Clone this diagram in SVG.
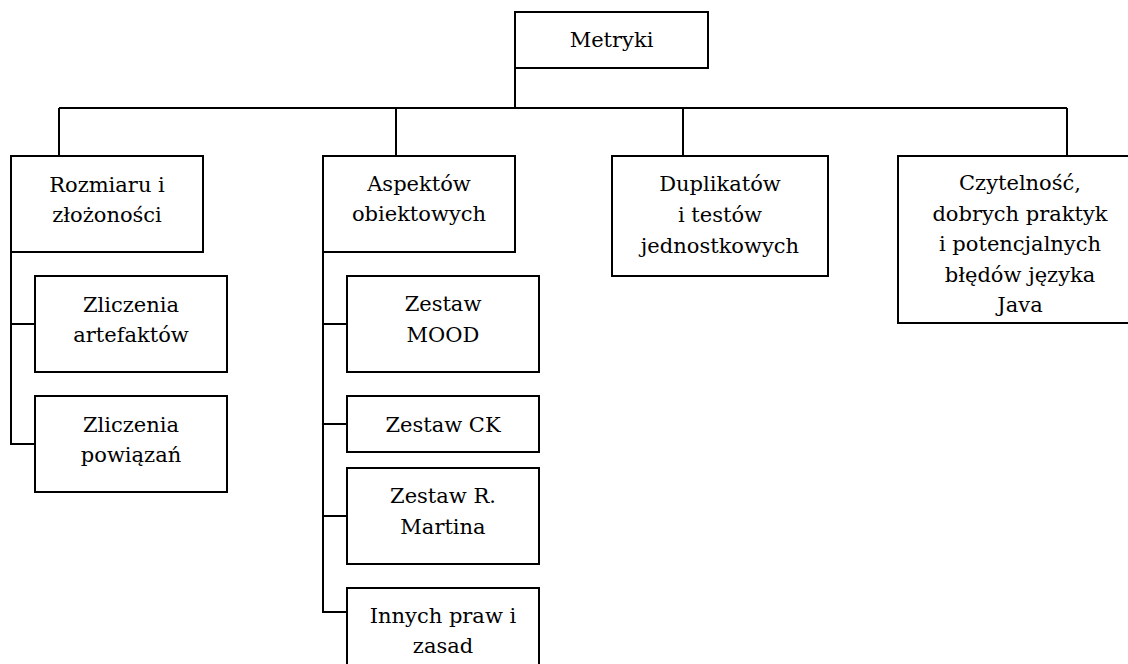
<svg xmlns="http://www.w3.org/2000/svg" width="1128" height="664" viewBox="0 0 1128 664">
  <style>
    .box { fill: #ffffff; stroke: #000000; stroke-width: 2; }
    .wire { fill: none; stroke: #000000; stroke-width: 2; }
    .lbl { font-family: 'DejaVu Serif', serif; font-size: 21px; fill: #000000; text-anchor: middle; }
  </style>
  <rect width="1128" height="664" fill="#ffffff"/>

  <!-- connectors -->
  <g id="connectors" class="wire">
    <path d="M515 68 V108"/>
    <path d="M59 108 H1067"/>
    <path d="M59 108 V156"/>
    <path d="M396 108 V156"/>
    <path d="M683 108 V156"/>
    <path d="M1067 108 V156"/>
    <!-- size & complexity branch -->
    <path d="M11 252 V444 H35"/>
    <path d="M11 324 H35"/>
    <!-- object aspects branch -->
    <path d="M323 252 V612 H347"/>
    <path d="M323 324 H347"/>
    <path d="M323 424 H347"/>
    <path d="M323 516 H347"/>
  </g>

  <g id="metryki">
    <rect class="box" x="515" y="12" width="193" height="56"/>
    <text class="lbl" x="611.5" y="47">Metryki</text>
  </g>

  <g id="rozmiaru">
    <rect class="box" x="11" y="156" width="192" height="96"/>
    <text class="lbl" x="107" y="192">Rozmiaru i</text>
    <text class="lbl" x="107" y="222">złożoności</text>
  </g>

  <g id="zliczenia-artefaktow">
    <rect class="box" x="35" y="276" width="192" height="96"/>
    <text class="lbl" x="131" y="312">Zliczenia</text>
    <text class="lbl" x="131" y="342">artefaktów</text>
  </g>

  <g id="zliczenia-powiazan">
    <rect class="box" x="35" y="396" width="192" height="96"/>
    <text class="lbl" x="131" y="432">Zliczenia</text>
    <text class="lbl" x="131" y="462">powiązań</text>
  </g>

  <g id="aspektow">
    <rect class="box" x="323" y="156" width="192" height="96"/>
    <text class="lbl" x="419" y="191">Aspektów</text>
    <text class="lbl" x="419" y="221">obiektowych</text>
  </g>

  <g id="zestaw-mood">
    <rect class="box" x="347" y="276" width="192" height="96"/>
    <text class="lbl" x="443" y="311">Zestaw</text>
    <text class="lbl" x="443" y="342">MOOD</text>
  </g>

  <g id="zestaw-ck">
    <rect class="box" x="347" y="396" width="192" height="56"/>
    <text class="lbl" x="443" y="432">Zestaw CK</text>
  </g>

  <g id="zestaw-martina">
    <rect class="box" x="347" y="468" width="192" height="96"/>
    <text class="lbl" x="443" y="503">Zestaw R.</text>
    <text class="lbl" x="443" y="534">Martina</text>
  </g>

  <g id="innych-praw">
    <rect class="box" x="347" y="588" width="192" height="96"/>
    <text class="lbl" x="443" y="623">Innych praw i</text>
    <text class="lbl" x="443" y="653">zasad</text>
  </g>

  <g id="duplikatow">
    <rect class="box" x="612" y="156" width="216" height="120"/>
    <text class="lbl" x="720" y="191">Duplikatów</text>
    <text class="lbl" x="720" y="222">i testów</text>
    <text class="lbl" x="720" y="253">jednostkowych</text>
  </g>

  <g id="czytelnosc">
    <rect class="box" x="898" y="156" width="244" height="167"/>
    <text class="lbl" x="1020" y="190">Czytelność,</text>
    <text class="lbl" x="1020" y="221">dobrych praktyk</text>
    <text class="lbl" x="1020" y="251">i potencjalnych</text>
    <text class="lbl" x="1020" y="282">błędów języka</text>
    <text class="lbl" x="1020" y="312">Java</text>
  </g>
</svg>
